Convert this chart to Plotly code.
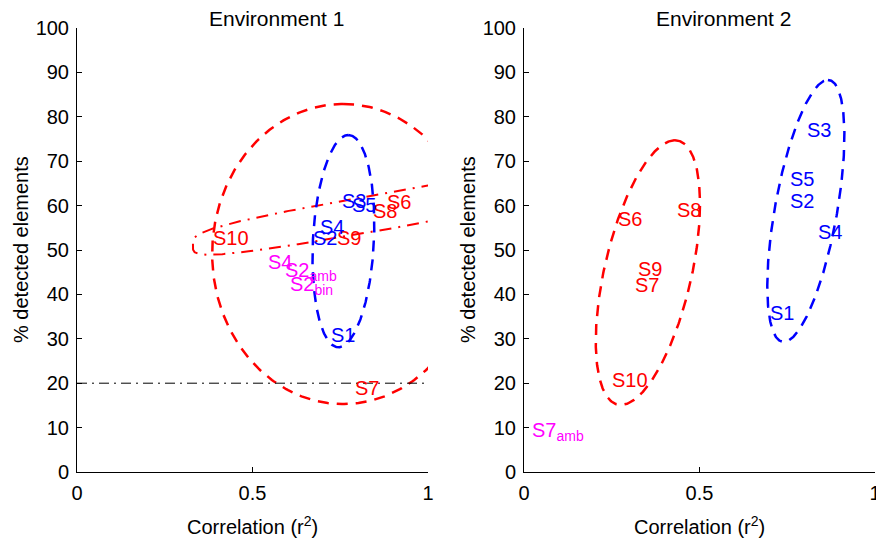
import numpy as np
import plotly.graph_objects as go

# ---------------- data ----------------
x_ticks = [0, 0.5, 1]
x_tick_text = ["0", "0.5", "1"]
y_ticks = list(range(0, 101, 10))

titles = ["Environment 1", "Environment 2"]

# Environment 1 labels (text left edge x, vertical centre y)
env1_red_names = ["S10", "S9", "S8", "S6", "S7"]
env1_red_x = [0.382, 0.736, 0.838, 0.878, 0.787]
env1_red_y = [52.7, 52.7, 58.8, 60.8, 18.9]

env1_blue_names = ["S1", "S2", "S4", "S3", "S5"]
env1_blue_x = [0.719, 0.667, 0.687, 0.750, 0.778]
env1_blue_y = [30.9, 52.7, 55.2, 61.0, 60.1]

env1_mag_names = ["S4", "S2<sub>amb</sub>", "S2<sub>bin</sub>"]
env1_mag_x = [0.539, 0.586, 0.601]
env1_mag_y = [47.3, 45.1, 42.1]

# Environment 2 labels
env2_red_names = ["S6", "S8", "S9", "S7", "S10"]
env2_red_x = [0.263, 0.431, 0.320, 0.311, 0.246]
env2_red_y = [57.0, 59.0, 45.7, 42.1, 20.7]

env2_blue_names = ["S3", "S5", "S2", "S4", "S1"]
env2_blue_x = [0.801, 0.753, 0.753, 0.833, 0.696]
env2_blue_y = [77.0, 66.0, 61.0, 54.0, 35.8]

env2_mag_names = ["S7<sub>amb</sub>"]
env2_mag_x = [0.018]
env2_mag_y = [9.1]

# Ellipses: centre, half-axis vector A, half-axis vector B, superellipse exponent
ell1_red_big = dict(cx=0.758, cy=49.1, ax=0.0, ay=33.8, bx=0.373, by=0.0, p=2)
ell1_red_thin = dict(cx=1.10, cy=61.8, ax=0.77, ay=10.7, bx=0.0, by=4.1, p=4)
ell1_blue = dict(cx=0.759, cy=52.0, ax=0.014, ay=23.9, bx=0.087, by=0.0, p=2)
ell2_red = dict(cx=0.353, cy=44.9, ax=0.077, ay=29.8, bx=0.127, by=0.0, p=2)
ell2_blue = dict(cx=0.803, cy=58.8, ax=0.063, ay=29.5, bx=0.090, by=0.0, p=2)

threshold_y = 20

RED = "#FF0000"
BLUE = "#0000FF"
MAG = "#FF00FF"
FONT = "Arial, Liberation Sans, sans-serif"


def ellipse(e, n=400):
    t = np.linspace(0, 2 * np.pi, n)
    c, s = np.cos(t), np.sin(t)
    k = 2.0 / e["p"]
    u = np.sign(c) * np.abs(c) ** k
    v = np.sign(s) * np.abs(s) ** k
    x = e["cx"] + u * e["ax"] + v * e["bx"]
    y = e["cy"] + u * e["ay"] + v * e["by"]
    return x, y


fig = go.Figure()


def add_ell(e, color, width, dash, xa, ya):
    x, y = ellipse(e)
    fig.add_trace(go.Scatter(x=x, y=y, mode="lines", xaxis=xa, yaxis=ya,
                             line=dict(color=color, width=width, dash=dash),
                             hoverinfo="skip", showlegend=False))


DASH = "11px,8px"
add_ell(ell1_red_big, RED, 2.5, DASH, "x", "y")
add_ell(ell1_red_thin, RED, 2, "12px,7px,2px,7px", "x", "y")
add_ell(ell1_blue, BLUE, 2.5, DASH, "x", "y")
add_ell(ell2_red, RED, 2.5, DASH, "x2", "y2")
add_ell(ell2_blue, BLUE, 2.5, DASH, "x2", "y2")

fig.add_trace(go.Scatter(x=[0, 1], y=[threshold_y, threshold_y], mode="lines",
                         xaxis="x", yaxis="y",
                         line=dict(color="black", width=1, dash="10px,5px,2px,5px"),
                         hoverinfo="skip", showlegend=False))

annotations = []


def add_labels(names, xs, ys, color, xref, yref):
    for n, x, y in zip(names, xs, ys):
        annotations.append(dict(text=n, x=x, y=y, xref=xref, yref=yref,
                                xanchor="left", yanchor="middle", showarrow=False,
                                font=dict(family=FONT, size=20, color=color)))


add_labels(env1_red_names, env1_red_x, env1_red_y, RED, "x", "y")
add_labels(env1_blue_names, env1_blue_x, env1_blue_y, BLUE, "x", "y")
add_labels(env1_mag_names, env1_mag_x, env1_mag_y, MAG, "x", "y")
add_labels(env2_red_names, env2_red_x, env2_red_y, RED, "x2", "y2")
add_labels(env2_blue_names, env2_blue_x, env2_blue_y, BLUE, "x2", "y2")
add_labels(env2_mag_names, env2_mag_x, env2_mag_y, MAG, "x2", "y2")

for i, (xr, yr) in enumerate([("x domain", "y domain"), ("x2 domain", "y2 domain")]):
    annotations.append(dict(text=titles[i], x=0.568, y=1, xref=xr, yref=yr,
                            xanchor="center", yanchor="middle", yshift=10,
                            showarrow=False, font=dict(family=FONT, size=21, color="black")))
    annotations.append(dict(text="Correlation (r<sup>2</sup>)", x=0.5, y=0, xref=xr, yref=yr,
                            xanchor="center", yanchor="middle", yshift=-53,
                            showarrow=False, font=dict(family=FONT, size=20, color="black")))
    annotations.append(dict(text="% detected elements", x=0, y=0.5, xref=xr, yref=yr,
                            xanchor="center", yanchor="middle", xshift=-56, textangle=-90,
                            showarrow=False, font=dict(family=FONT, size=20, color="black")))

axis_common = dict(showline=True, linecolor="black", linewidth=1, mirror=False,
                   ticks="inside", ticklen=5, tickcolor="black", tickwidth=1,
                   showgrid=False, zeroline=False, automargin=False,
                   ticklabeloverflow="allow",
                   tickfont=dict(family=FONT, size=20, color="black"))

fig.update_layout(
    width=876, height=543,
    margin=dict(l=77, r=1, t=28, b=71, autoexpand=False),
    paper_bgcolor="white", plot_bgcolor="white",
    showlegend=False,
    xaxis=dict(domain=[0, 351 / 798], range=[0, 1], tickvals=x_ticks, ticktext=x_tick_text,
               anchor="y", ticklabelstandoff=3, **axis_common),
    yaxis=dict(domain=[0, 1], range=[0, 100], tickvals=y_ticks, anchor="x",
               ticklabelstandoff=3, **axis_common),
    xaxis2=dict(domain=[447 / 798, 1], range=[0, 1], tickvals=x_ticks, ticktext=x_tick_text,
                anchor="y2", ticklabelstandoff=3, **axis_common),
    yaxis2=dict(domain=[0, 1], range=[0, 100], tickvals=y_ticks, anchor="x2",
                ticklabelstandoff=3, **axis_common),
    annotations=annotations,
)

# remove the default page margin so the figure fills the window exactly
fig.write_html("out.html", config={"displayModeBar": False}, post_script=(
    "document.body.style.margin='0';document.body.style.overflow='hidden';"
))
